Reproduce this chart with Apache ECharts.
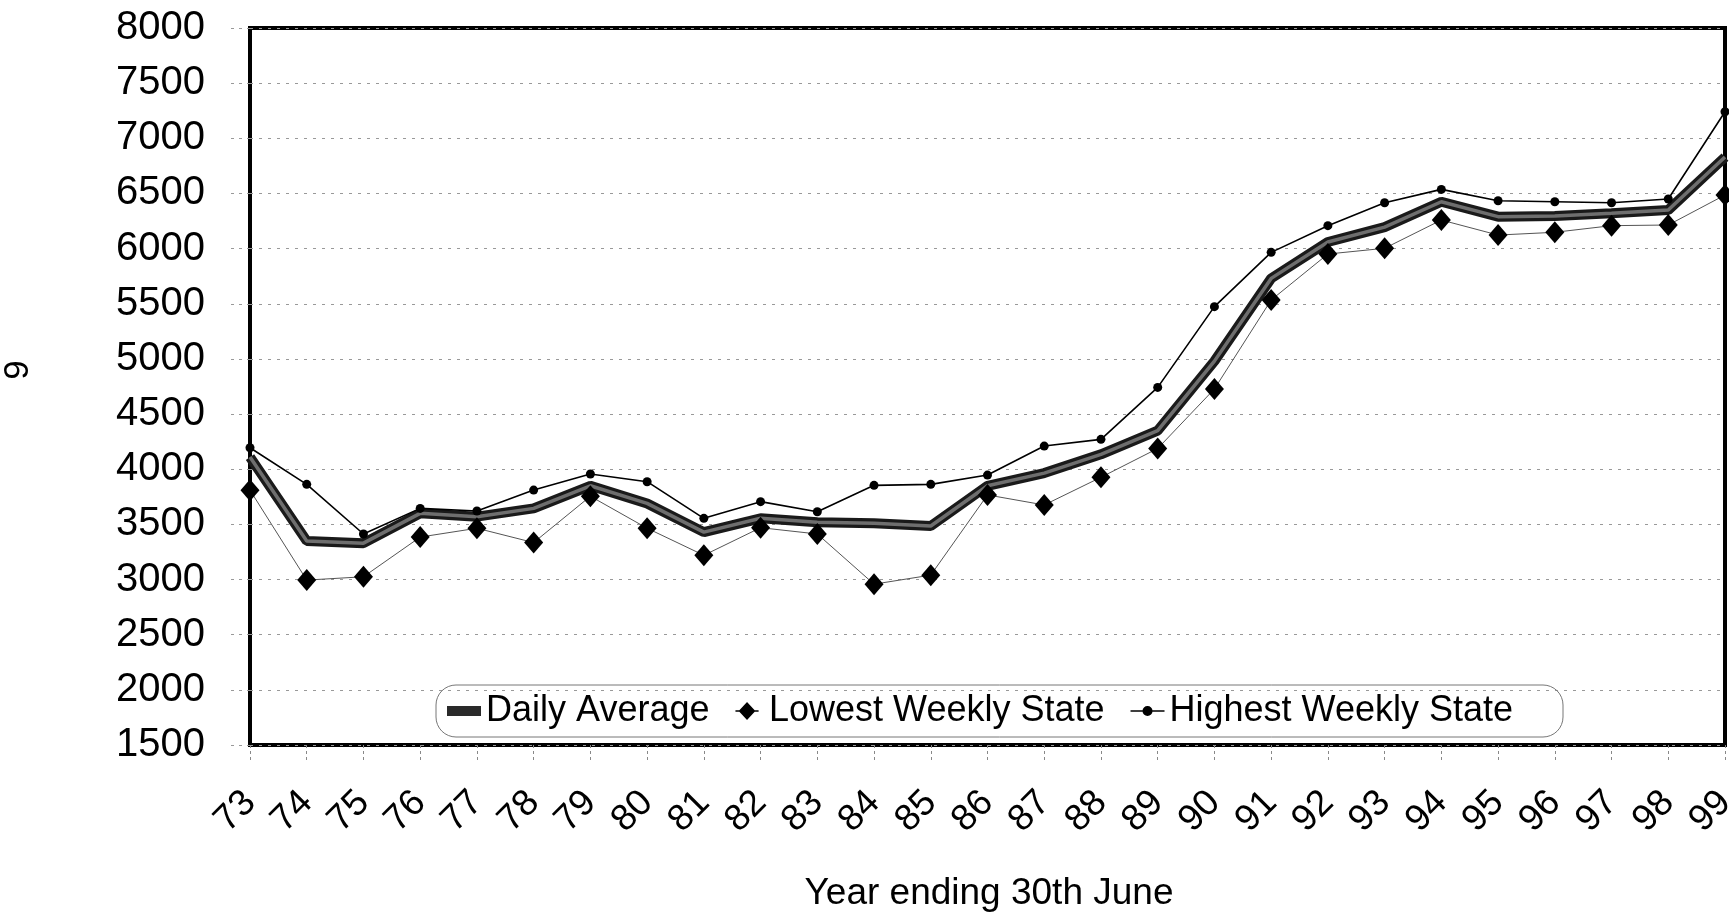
<!DOCTYPE html>
<html>
<head>
<meta charset="utf-8">
<script src="https://cdn.jsdelivr.net/npm/echarts@6/dist/echarts.min.js"></script>
<style>
  html, body { margin: 0; padding: 0; background: #fff; }
  #chart { width: 1729px; height: 912px; }
</style>
</head>
<body>
<div id="chart"></div>
<script>
// values
var years = ['73', '74', '75', '76', '77', '78', '79', '80', '81', '82', '83', '84', '85', '86',
             '87', '88', '89', '90', '91', '92', '93', '94', '95', '96', '97', '98', '99'];
var dailyAverage = [4110, 3350, 3330, 3600, 3570, 3645, 3850, 3690, 3430, 3555, 3520, 3510, 3485, 3850,
                    3965, 4135, 4350, 4980, 5730, 6060, 6195, 6425, 6290, 6295, 6320, 6350, 6830];
var lowestWeekly = [3810, 2995, 3025, 3385, 3465, 3335, 3755, 3465, 3220, 3470, 3413, 2958, 3040, 3767,
                    3676, 3927, 4188, 4728, 5534, 5951, 6003, 6259, 6123, 6148, 6208, 6214, 6486];
var highestWeekly = [4195, 3863, 3413, 3645, 3621, 3811, 3957, 3887, 3555, 3706, 3615, 3854, 3863, 3947,
                     4210, 4271, 4742, 5474, 5966, 6208, 6416, 6537, 6434, 6425, 6416, 6450, 7241];

var font = "'Liberation Sans', Arial, sans-serif";

var myChart = echarts.init(document.getElementById('chart'));

var option = {
  animation: false,
  backgroundColor: '#fff',
  grid: {
    left: 250, right: 4, top: 28, bottom: 167,
    outerBoundsMode: 'none',
    containLabel: false,
    show: true,
    borderColor: '#000',
    borderWidth: 4
  },
  legend: {
    left: 436,
    top: 685,
    orient: 'horizontal',
    itemWidth: 34,
    itemHeight: 18,
    itemGap: 26,
    padding: [8, 50, 8, 11],
    borderColor: '#777',
    borderWidth: 1,
    borderRadius: 20,
    textStyle: { fontFamily: font, fontSize: 36, color: '#000' },
    data: [
      { name: 'Daily Average', icon: 'path://M0,0H34V10H0Z', itemStyle: { color: '#2a2a2a' } },
      { name: 'Lowest Weekly State', icon: 'path://M8,8.5H26V9.5H8Z M17,2L23.5,9L17,16L10.5,9Z', itemStyle: { color: '#000' } },
      { name: 'Highest Weekly State', icon: 'path://M0,8.4H34V10H0Z M17,4.2A5,5 0 1,1 16.99,4.2Z', itemStyle: { color: '#000' } }
    ]
  },
  xAxis: {
    type: 'category',
    data: years,
    boundaryGap: false,
    axisLine: { show: false },
    axisTick: {
      show: true, length: 17, alignWithLabel: true, interval: 0,
      lineStyle: { color: '#888', width: 1, type: [3, 3] }
    },
    axisLabel: {
      interval: 0,
      rotate: 45,
      margin: 52,
      fontFamily: font,
      fontSize: 37,
      color: '#000'
    },
    splitLine: { show: false }
  },
  yAxis: {
    type: 'value',
    min: 1500,
    max: 8000,
    interval: 500,
    axisLine: { show: false },
    axisTick: {
      show: true, length: 19,
      lineStyle: { color: '#999', width: 1, type: [3, 5] }
    },
    axisLabel: {
      margin: 45,
      fontFamily: font,
      fontSize: 40,
      color: '#000',
      formatter: function (v) { return String(v); }
    },
    splitLine: {
      show: true,
      lineStyle: { color: '#999', width: 1, type: [3, 6] }
    }
  },
  graphic: [
    {
      type: 'text',
      x: 989, y: 894,
      style: {
        text: 'Year ending 30th June',
        fontFamily: font, fontSize: 37, fill: '#000',
        textAlign: 'center', textVerticalAlign: 'middle'
      }
    },
    {
      type: 'text',
      x: 18, y: 370,
      rotation: Math.PI / 2,
      style: {
        text: '9',
        fontFamily: font, fontSize: 35, fill: '#000',
        textAlign: 'center', textVerticalAlign: 'middle'
      }
    }
  ],
  series: [
    {
      name: 'Daily Average',
      type: 'line',
      data: dailyAverage,
      symbol: 'none',
      lineStyle: { color: '#1a1a1a', width: 10 },
      itemStyle: { color: '#2a2a2a' },
      z: 2
    },
    {
      // lighter core of the thick average line
      name: 'Daily Average core',
      type: 'line',
      data: dailyAverage,
      symbol: 'none',
      silent: true,
      lineStyle: { color: '#6e6e6e', width: 3.5 },
      itemStyle: { color: '#6e6e6e' },
      z: 2
    },
    {
      name: 'Lowest Weekly State',
      type: 'line',
      data: lowestWeekly,
      symbol: 'diamond',
      symbolSize: [19, 22],
      lineStyle: { color: '#555', width: 1 },
      itemStyle: { color: '#000' },
      z: 3
    },
    {
      name: 'Highest Weekly State',
      type: 'line',
      data: highestWeekly,
      symbol: 'circle',
      symbolSize: 9,
      lineStyle: { color: '#000', width: 1.6 },
      itemStyle: { color: '#000' },
      z: 4
    }
  ]
};

myChart.setOption(option);
window.addEventListener('resize', function () {
  myChart.resize();
});
</script>
</body>
</html>
